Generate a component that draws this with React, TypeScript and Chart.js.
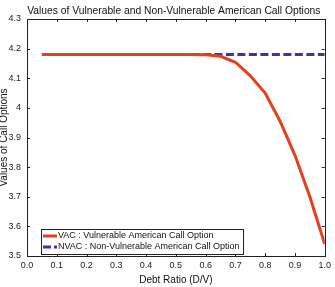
import React, { useEffect, useRef } from "react";
import { Chart, registerables } from "chart.js";

Chart.register(...registerables);

// Debt ratio (D/V) grid
const debtRatio = [0.05, 0.1, 0.15, 0.2, 0.25, 0.3, 0.35, 0.4, 0.45, 0.5, 0.55, 0.6, 0.65, 0.7, 0.75, 0.8, 0.85, 0.9, 0.95, 1.0];
// Vulnerable American call values
const vacValues = [4.18, 4.18, 4.18, 4.18, 4.18, 4.18, 4.18, 4.18, 4.18, 4.18, 4.18, 4.179, 4.174, 4.154, 4.108, 4.05, 3.955, 3.84, 3.70, 3.54];
// Non-vulnerable American call values
const nvacValues = [4.18, 4.18, 4.18, 4.18, 4.18, 4.18, 4.18, 4.18, 4.18, 4.18, 4.18, 4.18, 4.18, 4.18, 4.18, 4.18, 4.18, 4.18, 4.18, 4.18];

const xTicks = [0, 0.1, 0.2, 0.3, 0.4, 0.5, 0.6, 0.7, 0.8, 0.9, 1.0];
const yTicks = [3.5, 3.6, 3.7, 3.8, 3.9, 4.0, 4.1, 4.2, 4.3];

const titleText = "Values of Vulnerable and Non-Vulnerable American Call Options";
const xTitle = "Debt Ratio (D/V)";
const yTitle = "Values of Call Options";
const seriesLabels = ["VAC : Vulnerable American Call Option", "NVAC : Non-Vulnerable American Call Option"];

const RED = "#e3401e";
const BLUE = "#4a2ea6";
const FONT = "'Liberation Sans', Arial, sans-serif";

const framePlugin = {
  id: "frame",
  afterDraw(chart: any) {
    const { ctx, chartArea: a, scales } = chart;
    const xs = scales.x;
    const ys = scales.y;
    ctx.save();
    // box
    ctx.strokeStyle = "#222";
    ctx.lineWidth = 1;
    ctx.strokeRect(Math.round(a.left) + 0.5, Math.round(a.top) + 0.5, Math.round(a.right - a.left), Math.round(a.bottom - a.top));
    // inward ticks on all sides
    const tl = 3;
    ctx.beginPath();
    xTicks.forEach((v) => {
      const px = Math.round(xs.getPixelForValue(v)) + 0.5;
      ctx.moveTo(px, a.bottom);
      ctx.lineTo(px, a.bottom - tl);
      ctx.moveTo(px, a.top);
      ctx.lineTo(px, a.top + tl);
    });
    yTicks.forEach((v) => {
      const py = Math.round(ys.getPixelForValue(v)) + 0.5;
      ctx.moveTo(a.left, py);
      ctx.lineTo(a.left + tl, py);
      ctx.moveTo(a.right, py);
      ctx.lineTo(a.right - tl, py);
    });
    ctx.stroke();

    // titles
    ctx.fillStyle = "#111";
    ctx.textAlign = "center";
    ctx.textBaseline = "middle";
    ctx.font = `10.3px ${FONT}`;
    ctx.fillText(titleText, (a.left + a.right) / 2 - 2, 11);
    ctx.font = `10px ${FONT}`;
    ctx.fillText(xTitle, (a.left + a.right) / 2, 280);
    ctx.save();
    ctx.translate(4, (a.top + a.bottom) / 2);
    ctx.rotate(-Math.PI / 2);
    ctx.fillText(yTitle, 0, 0);
    ctx.restore();

    // legend box
    const lx = 41;
    const ly = 229;
    const lw = 202;
    const lh = 25;
    ctx.fillStyle = "#fff";
    ctx.fillRect(lx, ly, lw, lh);
    ctx.strokeStyle = "#222";
    ctx.strokeRect(lx + 0.5, ly + 0.5, lw, lh);
    const rows = [ly + 7, ly + 18];
    ctx.lineWidth = 3;
    ctx.strokeStyle = RED;
    ctx.beginPath();
    ctx.moveTo(lx + 2, rows[0]);
    ctx.lineTo(lx + 16, rows[0]);
    ctx.stroke();
    ctx.strokeStyle = BLUE;
    ctx.setLineDash([8, 3]);
    ctx.beginPath();
    ctx.moveTo(lx + 2, rows[1]);
    ctx.lineTo(lx + 16, rows[1]);
    ctx.stroke();
    ctx.setLineDash([]);
    ctx.fillStyle = "#111";
    ctx.textAlign = "left";
    ctx.font = `9px ${FONT}`;
    ctx.fillText(seriesLabels[0], lx + 17, rows[0]);
    ctx.fillText(seriesLabels[1], lx + 17, rows[1]);
    ctx.restore();
  },
};

export default function App() {
  const ref = useRef<HTMLCanvasElement | null>(null);

  useEffect(() => {
    if (!ref.current) return;
    const chart = new Chart(ref.current, {
      type: "line",
      data: {
        datasets: [
          {
            label: seriesLabels[0],
            data: debtRatio.map((x, i) => ({ x, y: vacValues[i] })),
            borderColor: RED,
            borderWidth: 3,
            pointRadius: 0,
            tension: 0,
            fill: false,
          },
          {
            label: seriesLabels[1],
            data: debtRatio.map((x, i) => ({ x, y: nvacValues[i] })),
            borderColor: BLUE,
            borderWidth: 3,
            borderDash: [8, 3.5],
            pointRadius: 0,
            tension: 0,
            fill: false,
          },
        ],
      },
      options: {
        animation: false,
        responsive: false,
        maintainAspectRatio: false,
        layout: { padding: { top: 19, right: 6, left: 0, bottom: 0 } },
        plugins: { legend: { display: false }, title: { display: false }, tooltip: { enabled: false } },
        scales: {
          x: {
            type: "linear",
            min: 0,
            max: 1,
            grid: { display: false, drawTicks: false },
            border: { display: false },
            afterFit: (s: any) => {
              s.height = 31;
            },
            afterBuildTicks: (s: any) => {
              s.ticks = xTicks.map((v) => ({ value: v }));
            },
            ticks: {
              padding: 4,
              color: "#222",
              font: { family: FONT, size: 9 },
              maxRotation: 0,
              autoSkip: false,
              callback: (v: any) => Number(v).toFixed(1),
            },
          },
          y: {
            type: "linear",
            min: 3.5,
            max: 4.3,
            grid: { display: false, drawTicks: false },
            border: { display: false },
            afterFit: (s: any) => {
              s.width = 27;
            },
            afterBuildTicks: (s: any) => {
              s.ticks = yTicks.map((v) => ({ value: v }));
            },
            ticks: {
              padding: 6,
              color: "#222",
              font: { family: FONT, size: 9 },
              autoSkip: false,
              callback: (v: any) => (Math.abs(Number(v) - 4) < 1e-9 ? "4" : Number(v).toFixed(1)),
            },
          },
        },
      },
      plugins: [framePlugin],
    });
    return () => chart.destroy();
  }, []);

  return (
    <div style={{ position: "fixed", left: 0, top: 0, width: 335, height: 287, background: "#fff" }}>
      <canvas ref={ref} width={335} height={287} style={{ width: 335, height: 287, display: "block" }} />
    </div>
  );
}
